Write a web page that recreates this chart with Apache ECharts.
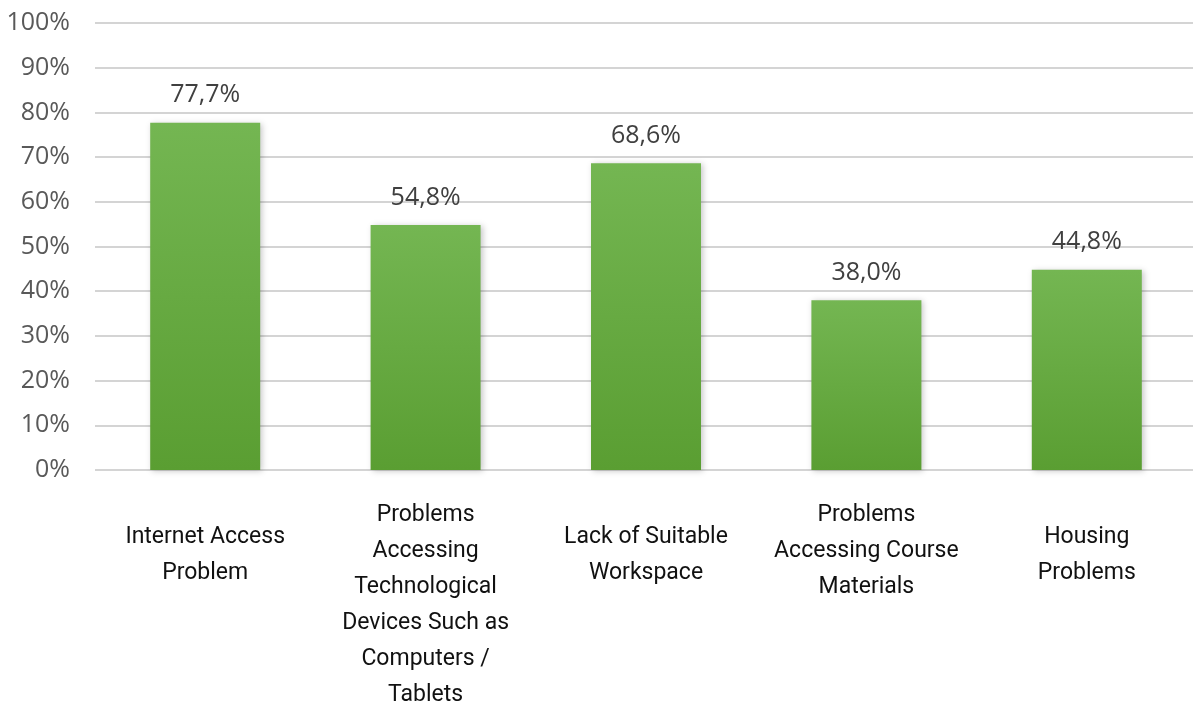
<!DOCTYPE html>
<html>
<head>
<meta charset="utf-8">
<script src="https://cdn.jsdelivr.net/npm/echarts@6/dist/echarts.min.js"></script>
<style>
  html, body { margin: 0; padding: 0; background: #ffffff; }
  #chart { width: 1193px; height: 704px; }
</style>
</head>
<body>
<div id="chart"></div>
<script>
// Category names, one entry per line of the wrapped label
const categories = [
  ['Internet Access', 'Problem'],
  ['Problems', 'Accessing', 'Technological', 'Devices Such as', 'Computers /', 'Tablets'],
  ['Lack of Suitable', 'Workspace'],
  ['Problems', 'Accessing Course', 'Materials'],
  ['Housing', 'Problems']
];
// Share of respondents (%)
const values = [77.7, 54.8, 68.6, 38.0, 44.8];
// Value axis ticks
const yTicks = [0, 10, 20, 30, 40, 50, 60, 70, 80, 90, 100];

const chart = echarts.init(document.getElementById('chart'), null, { renderer: 'canvas' });

const axisData = categories.map(lines => ({
  value: lines.join('\n'),
  // short two-line labels sit a bit lower than the taller ones
  textStyle: lines.length <= 2 ? { padding: [22, 0, 0, 0] } : {}
}));

chart.setOption({
  animation: false,
  backgroundColor: '#ffffff',
  grid: {
    left: 95, top: 23, width: 1102, height: 447,
    containLabel: false,
    outerBoundsMode: 'none'
  },
  xAxis: {
    type: 'category',
    data: axisData,
    axisLine: { show: false },
    axisTick: { show: false },
    axisLabel: {
      interval: 0,
      margin: 27,
      color: '#111111',
      fontFamily: 'Roboto',
      fontSize: 23,
      lineHeight: 36,
      align: 'center',
      verticalAlign: 'top'
    }
  },
  yAxis: {
    type: 'value',
    min: yTicks[0],
    max: yTicks[yTicks.length - 1],
    interval: 10,
    axisLine: { show: false },
    axisTick: { show: false },
    splitLine: { lineStyle: { color: '#d4d4d4', width: 2 } },
    axisLabel: {
      margin: 25,
      color: '#595959',
      fontFamily: 'Open Sans',
      fontSize: 25,
      formatter: v => v + '%'
    }
  },
  series: [{
    type: 'bar',
    data: values,
    barWidth: 110,
    itemStyle: {
      color: new echarts.graphic.LinearGradient(0, 0, 0, 1, [
        { offset: 0, color: '#74b652' },
        { offset: 1, color: '#5a9e32' }
      ]),
      shadowColor: 'rgba(0,0,0,0.22)',
      shadowBlur: 6,
      shadowOffsetX: 2,
      shadowOffsetY: 1
    },
    label: {
      show: true,
      position: 'top',
      distance: 15,
      color: '#404040',
      fontFamily: 'Open Sans',
      fontSize: 25,
      formatter: p => p.value.toFixed(1).replace('.', ',') + '%'
    }
  }]
});
</script>
</body>
</html>
